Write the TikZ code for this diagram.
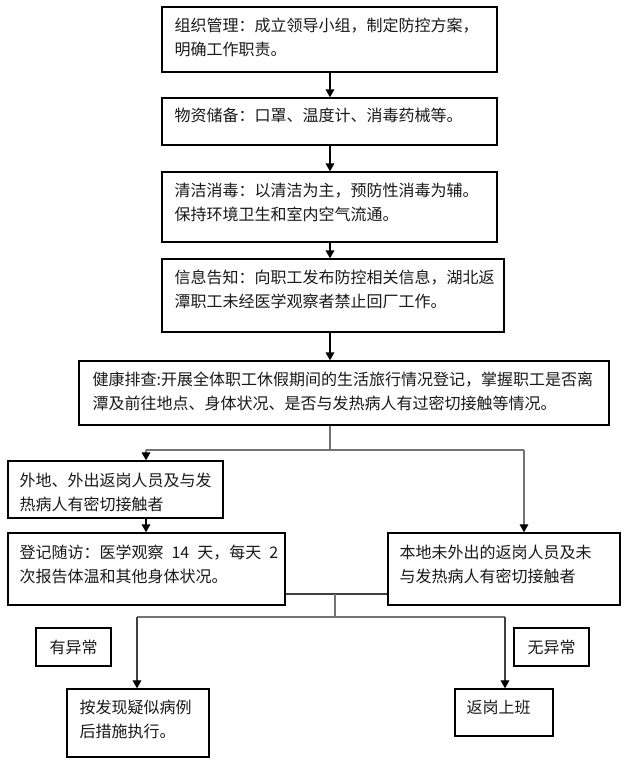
\documentclass[tikz,border=0pt]{standalone}
\usepackage{fontspec}
\newfontfamily\cjk{Noto Sans CJK SC}
\usetikzlibrary{arrows.meta,calc,fit}
\begin{document}
\begin{tikzpicture}[x=0.75pt,y=-0.75pt,
  box/.style={draw=black, line width=1pt, inner sep=0pt},
  txt/.style={anchor=north west, inner sep=0pt, align=left, text=black!90,
    font=\cjk\fontsize{12pt}{18.4pt}\selectfont},
  ctxt/.style={inner sep=0pt, text=black!90, font=\cjk\fontsize{12pt}{18.4pt}\selectfont},
  arr/.style={-{Triangle[width=6.5pt,length=6pt]}, line width=1pt, draw=black},
  gline/.style={draw=black!55, line width=0.9pt},
  garr/.style={gline, -{Triangle[width=6.5pt,length=6pt,color=black,fill=black]}}
]
\useasboundingbox (0,0) rectangle (626,769);
\fill[white] (0,0) rectangle (626,769);

% boxes
\node[box, fit={(162,7) (497,72)}] (b1) {};
\node[box, fit={(162,98) (497,145)}] (b2) {};
\node[box, fit={(162,172) (497,242)}] (b3) {};
\node[box, fit={(162,259) (504,332)}] (b4) {};
\node[box, fit={(79,361) (609,425)}] (b5) {};
\node[box, fit={(8,461) (223,518)}] (b6) {};
\node[box, fit={(8,533) (285,605)}] (b7) {};
\node[box, fit={(388,533) (620,605)}] (b8) {};
\node[box, fit={(67,689) (209,757)}] (b9) {};
\node[box, fit={(455,689) (553,736)}] (b10) {};
\node[box, fit={(36,628) (111,666)}] (l1) {};
\node[box, fit={(514,628) (589,666)}] (l2) {};

% texts
\node[txt] (t1) at ($(b1.north west)+(13,11)$) {组织管理：成立领导小组，制定防控方案，\\明确工作职责。};
\node[txt] (t2) at ($(b2.north west)+(13,10)$) {物资储备：口罩、温度计、消毒药械等。};
\node[txt] (t3) at ($(b3.north west)+(13,11)$) {清洁消毒：以清洁为主，预防性消毒为辅。\\保持环境卫生和室内空气流通。};
\node[txt] (t4) at ($(b4.north west)+(13,11)$) {信息告知：向职工发布防控相关信息，湖北返\\潭职工未经医学观察者禁止回厂工作。};
\node[txt] (t5) at ($(b5.north west)+(14,11)$) {健康排查:开展全体职工休假期间的生活旅行情况登记，掌握职工是否离\\潭及前往地点、身体状况、是否与发热病人有过密切接触等情况。};
\node[txt] (t6) at ($(b6.north west)+(12,12)$) {外地、外出返岗人员及与发\\热病人有密切接触者};
\node[txt] (t7) at ($(b7.north west)+(12,12)$) {登记随访：医学观察\hspace{6pt}14\hspace{6pt}天，每天\hspace{6pt}2\\次报告体温和其他身体状况。};
\node[txt] (t8) at ($(b8.north west)+(12,12)$) {本地未外出的返岗人员及未\\与发热病人有密切接触者};
\node[txt] (t9) at ($(b9.north west)+(13,11)$) {按发现疑似病例\\后措施执行。};
\node[txt] (t10) at ($(b10.north west)+(12,11)$) {返岗上班};
\node[ctxt] (tl1) at (l1.center) {有异常};
\node[ctxt] (tl2) at (l2.center) {无异常};

% helper coordinates
\coordinate (cx) at (330,0);
\coordinate (lx) at (146,0);
\coordinate (rx) at (524,0);
\coordinate (j1) at (330,450);
\coordinate (j2) at (335,594);
\coordinate (j3) at (335,617);
\coordinate (lx2) at (137,0);
\coordinate (rx2) at (505,0);

% top chain
\draw[arr] (b1.south -| cx) -- (b2.north -| cx);
\draw[arr] (b2.south -| cx) -- (b3.north -| cx);
\draw[arr] (b3.south -| cx) -- (b4.north -| cx);
\draw[arr] (b4.south -| cx) -- (b5.north -| cx);

% split after b5
\draw[gline] (b5.south -| cx) -- (j1);
\draw[gline] (j1 -| lx) -- (j1 -| rx);
\draw[garr] (j1 -| lx) -- (b6.north -| lx);
\draw[garr] (j1 -| rx) -- (b8.north -| rx);
\draw[arr] (b6.south -| lx) -- (b7.north -| lx);

% merge and final split
\draw[line width=0.9pt, draw=black!75] (b7.east |- j2) -- (b8.west |- j2);
\draw[gline] (j2) -- (j3);
\draw[gline] (j3 -| lx2) -- (j3 -| rx2);
\draw[garr, draw=black!75] (j3 -| lx2) -- (b9.north -| lx2);
\draw[garr, draw=black!75] (j3 -| rx2) -- (b10.north -| rx2);
\end{tikzpicture}
\end{document}
